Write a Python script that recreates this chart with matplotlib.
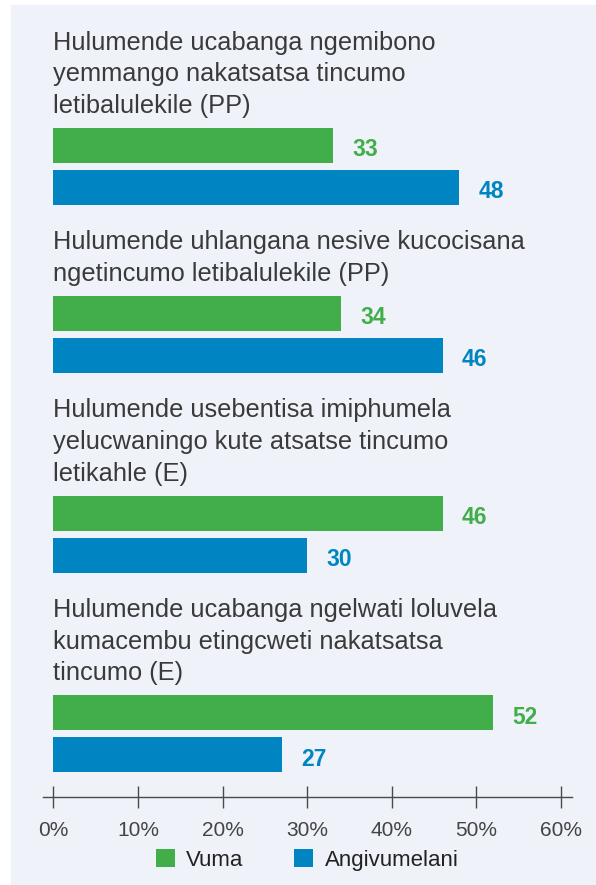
import matplotlib.pyplot as plt
from matplotlib.patches import Rectangle

categories = [
    "Hulumende ucabanga ngemibono\nyemmango nakatsatsa tincumo\nletibalulekile (PP)",
    "Hulumende uhlangana nesive kucocisana\nngetincumo letibalulekile (PP)",
    "Hulumende usebentisa imiphumela\nyelucwaningo kute atsatse tincumo\nletikahle (E)",
    "Hulumende ucabanga ngelwati loluvela\nkumacembu etingcweti nakatsatsa\ntincumo (E)",
]
series_names = ['Vuma', 'Angivumelani']
vuma = [33, 34, 46, 52]
angivumelani = [48, 46, 30, 27]
ticks = [0, 10, 20, 30, 40, 50, 60]

green = '#41ae4a'
blue = '#0085c2'
text_col = '#3a3a3a'

plt.rcParams['font.family'] = ['Liberation Sans', 'DejaVu Sans']

fig = plt.figure(figsize=(5.96, 8.85), dpi=100)
fig.patches.append(Rectangle((11 / 596, 0), 585 / 596, 880 / 885,
                             transform=fig.transFigure, color='#eff3f9', zorder=-1))

# axes in pixel units vertically (y grows downwards)
ax = fig.add_axes([43 / 596, 0, 529 / 596, 1])
ax.set_facecolor('none')
ax.set_xlim(-1.22, 61.3)
ax.set_ylim(885, 0)

line_h = 31.5
bar_h = 35
y = 50
for i, cat in enumerate(categories):
    lines = cat.split('\n')
    for k, ln in enumerate(lines):
        ax.text(0, y + k * line_h, ln, fontsize=18.3, color=text_col, va='baseline', ha='left')
    top = y + (len(lines) - 1) * line_h + 15
    g_c = top + bar_h / 2
    b_c = g_c + 42
    ax.barh(g_c, vuma[i], height=bar_h, color=green, label=series_names[0] if i == 0 else None)
    ax.barh(b_c, angivumelani[i], height=bar_h, color=blue, label=series_names[1] if i == 0 else None)
    ax.text(vuma[i] + 2.3, g_c + 11, str(vuma[i]), fontsize=16.5, fontweight='bold',
            color=green, va='baseline')
    ax.text(angivumelani[i] + 2.3, b_c + 11, str(angivumelani[i]), fontsize=16.5,
            fontweight='bold', color=blue, va='baseline')
    y = b_c + bar_h / 2 + 44.5

for s in ['top', 'right', 'left']:
    ax.spines[s].set_visible(False)
ax.spines['bottom'].set_position(('data', 797))
ax.spines['bottom'].set_color('#4a4a4a')
ax.spines['bottom'].set_linewidth(1.0)
ax.set_yticks([])
ax.set_xticks(ticks)
ax.set_xticklabels([f'{t}%' for t in ticks])
ax.tick_params(axis='x', direction='inout', length=16, width=1.0, color='#4a4a4a',
               pad=9, labelsize=15, labelcolor='#444444')

leg = fig.legend(loc='center', bbox_to_anchor=(307 / 596, 1 - 860 / 885), ncol=2,
                 frameon=False, fontsize=16, handlelength=0.86, handleheight=0.86,
                 handletextpad=0.5, columnspacing=2.3, labelcolor='#222222')

fig.savefig('out.png', dpi=100)
